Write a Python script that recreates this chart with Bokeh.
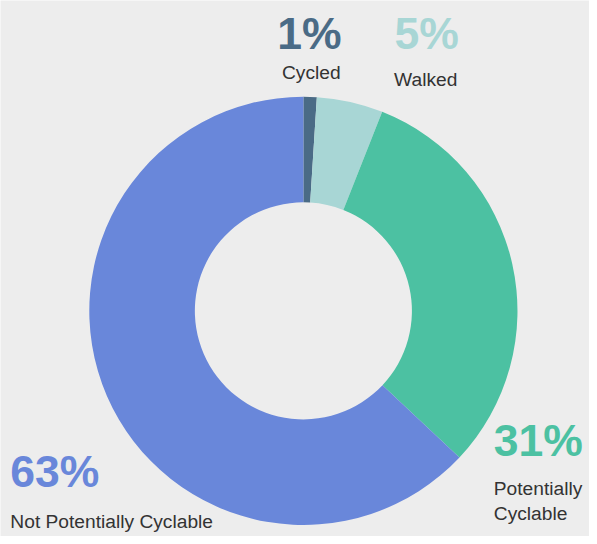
import math
from bokeh.plotting import figure
from bokeh.models import Range1d, ColumnDataSource
from bokeh.core.properties import value
from bokeh.embed import file_html
from bokeh.resources import INLINE

# ---- data ----
categories = ["Cycled", "Walked", "Potentially Cyclable", "Not Potentially Cyclable"]
shares = [1, 5, 31, 63]
pct_labels = ["1%", "5%", "31%", "63%"]
colors = ["#4a6b86", "#a8d6d5", "#4cc1a2", "#6987da"]
name_lines = [["Cycled"], ["Walked"], ["Potentially", "Cyclable"], ["Not Potentially Cyclable"]]

BG = "#ededed"
W, H = 589, 536  # figure size; page margin 8px
RW, RH = 597, 544  # layout reference frame

p = figure(width=W, height=H, output_backend="svg", toolbar_location=None,
           x_range=Range1d(0, RW), y_range=Range1d(0, RH),
           min_border=0)
p.axis.visible = False
p.grid.visible = False
p.outline_line_color = None
p.background_fill_color = BG
p.border_fill_color = BG

def sy(y):
    # convert top-down layout y to data y
    return RH - y

# donut geometry
cx, cy = 307, sy(315)
r_out, r_in = 217, 110

total = float(sum(shares))
starts, ends = [], []
acc = 0.0
for s in shares:
    starts.append(math.pi / 2 - 2 * math.pi * acc / total)
    acc += s
    ends.append(math.pi / 2 - 2 * math.pi * acc / total)

src = ColumnDataSource(dict(x=[cx] * len(shares), y=[cy] * len(shares),
                            start=starts, end=ends, color=colors, cat=categories))
p.annular_wedge(x="x", y="y", inner_radius=r_in, outer_radius=r_out,
                start_angle="start", end_angle="end", direction="clock",
                fill_color="color", line_color=None, source=src)

# label layout (top-down positions): pct (x, baseline), align, name x / first baseline
layout = [
    dict(x=313, pb=50, align="center", nx=315, nb=80),
    dict(x=432, pb=50, align="center", nx=431, nb=87),
    dict(x=500, pb=463, align="left", nx=500, nb=503),
    dict(x=10, pb=495, align="left", nx=10, nb=536),
]
line_gap = 25
PCT_FS, NAME_FS = 44.5, 19.2
SHIFT = 0.38  # renderer places alphabetic text lower by ~0.38 em

for i, lay in enumerate(layout):
    p.text(x=[lay["x"]], y=[sy(lay["pb"] - SHIFT * PCT_FS)], text=[pct_labels[i]],
           text_font=value("Liberation Sans"), text_font_style="bold",
           text_font_size="%spx" % PCT_FS, text_color=colors[i],
           text_align=lay["align"], text_baseline="alphabetic")
    for j, line in enumerate(name_lines[i]):
        p.text(x=[lay["nx"]], y=[sy(lay["nb"] + j * line_gap - SHIFT * NAME_FS)], text=[line],
               text_font=value("Liberation Sans"), text_font_size="%spx" % NAME_FS,
               text_color="#333333", text_align=lay["align"],
               text_baseline="alphabetic")

html = file_html(p, INLINE)
html = html.replace("<body", '<body style="background-color:%s;"' % BG, 1)
open("out.html", "w").write(html)
